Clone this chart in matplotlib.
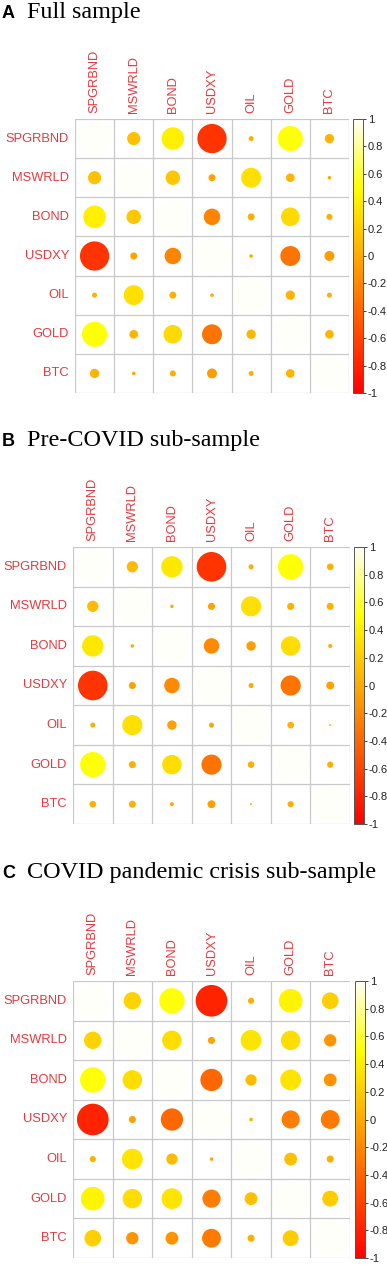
import numpy as np
import matplotlib
matplotlib.use("Agg")
import matplotlib.pyplot as plt
from matplotlib.colors import LinearSegmentedColormap, Normalize
from matplotlib.patches import Circle
import matplotlib.cm as cm

# ---------------- data ----------------
variables = ["SPGRBND", "MSWRLD", "BOND", "USDXY", "OIL", "GOLD", "BTC"]

# upper-triangle correlations, row by row (i<j)
full_sample = [0.14, 0.41, -0.69, 0.02, 0.51, 0.07,      # SPGRBND
               0.17, -0.04, 0.32, 0.06, 0.01,            # MSWRLD
               -0.22, 0.04, 0.28, 0.03,                  # BOND
               -0.01, -0.32, -0.08,                      # USDXY
               0.07, 0.02,                               # OIL
               0.06]                                     # GOLD

pre_covid = [0.10, 0.36, -0.69, 0.02, 0.51, 0.035,
             0.01, -0.04, 0.32, 0.04, 0.04,
             -0.19, -0.07, 0.30, 0.013,
             -0.02, -0.32, -0.05,
             0.035, 0.003,
             0.03]

covid_crisis = [0.24, 0.51, -0.79, 0.03, 0.44, 0.22,
                0.30, -0.04, 0.34, 0.30, -0.12,
                -0.39, 0.10, 0.34, -0.13,
                -0.01, -0.26, -0.28,
                0.13, 0.04,
                0.20]

panel_letters = ["A", "B", "C"]
panel_titles = ["Full sample", "Pre-COVID sub-sample", "COVID pandemic crisis sub-sample"]
cbar_ticks = [1, 0.8, 0.6, 0.4, 0.2, 0, -0.2, -0.4, -0.6, -0.8, -1]


def build_matrix(upper):
    n = len(variables)
    m = np.eye(n)
    k = 0
    for i in range(n):
        for j in range(i + 1, n):
            m[i, j] = upper[k]
            m[j, i] = upper[k]
            k += 1
    return m


# heat.colors style palette: red -> yellow (3/4), yellow -> white (1/4)
cmap = LinearSegmentedColormap.from_list(
    "heat", [(0.0, "#FF0000"), (0.75, "#FFFF00"), (1.0, "#FFFFFA")])
norm = Normalize(-1, 1)

W, H = 387, 1266
fig = plt.figure(figsize=(W / 100, H / 100), dpi=100)

# layout in pixels (left, top, right, bottom) for grid, colorbar, title baseline
layouts = [
    dict(grid=(75, 119, 349, 393), cbar=(353, 363), title_y=18),
    dict(grid=(73, 547, 350, 824), cbar=(354, 364), title_y=446),
    dict(grid=(73, 981, 350, 1258), cbar=(355, 365), title_y=878),
]

label_color = "#E8383D"
matrices = [build_matrix(full_sample), build_matrix(pre_covid), build_matrix(covid_crisis)]


def px_axes(l, t, r, b):
    return fig.add_axes([l / W, 1 - b / H, (r - l) / W, (b - t) / H])


n = len(variables)
for p, (mat, lay) in enumerate(zip(matrices, layouts)):
    l, t, r, b = lay["grid"]
    ax = px_axes(l, t, r, b)
    ax.set_xlim(0, n)
    ax.set_ylim(n, 0)
    ax.set_aspect("auto")
    for s in ax.spines.values():
        s.set_visible(False)
    ax.set_xticks([])
    ax.set_yticks([])
    cell_w = (r - l) / n
    cell_h = (b - t) / n
    for i in range(n):
        for j in range(n):
            v = mat[i, j]
            rad = 0.45 * np.sqrt(abs(v))
            ax.add_patch(Circle((j + 0.5, i + 0.5), rad, facecolor=cmap(norm(v)),
                                edgecolor="none", zorder=2))
    for k in range(n + 1):
        ax.axhline(k, color="#C9C9C9", lw=0.9, zorder=1)
        ax.axvline(k, color="#C9C9C9", lw=0.9, zorder=1)

    # labels
    for i, name in enumerate(variables):
        fig.text((l - 6) / W, 1 - (t + (i + 0.5) * cell_h) / H, name,
                 ha="right", va="center", color=label_color, fontsize=9.3,
                 family="Liberation Sans")
        fig.text((l + (i + 0.5) * cell_w) / W, 1 - (t - 6) / H, name,
                 ha="center", va="bottom", rotation=90, color=label_color,
                 fontsize=9.3, family="Liberation Sans")

    # colorbar
    cl, cr = lay["cbar"]
    cax = px_axes(cl, t, cr, b)
    cb = fig.colorbar(cm.ScalarMappable(norm=norm, cmap=cmap), cax=cax,
                      orientation="vertical")
    cb.set_ticks(cbar_ticks)
    cb.set_ticklabels([("%g" % v) for v in cbar_ticks])
    cax.tick_params(axis="y", direction="out", length=2.5, width=0.6, pad=1,
                    labelsize=8, colors="#222222")
    for lab in cax.get_yticklabels():
        lab.set_family("Liberation Sans")
    cb.outline.set_edgecolor("#555555")
    cb.outline.set_linewidth(0.7)

    # title
    ty = 1 - lay["title_y"] / H
    fig.text(2 / W, ty, panel_letters[p], ha="left", va="baseline",
             fontsize=13, fontweight="bold", family="Liberation Sans")
    fig.text(27 / W, ty, panel_titles[p], ha="left", va="baseline",
             fontsize=17.4, family="Liberation Serif")

fig.savefig("out.png", dpi=100, facecolor="white")
